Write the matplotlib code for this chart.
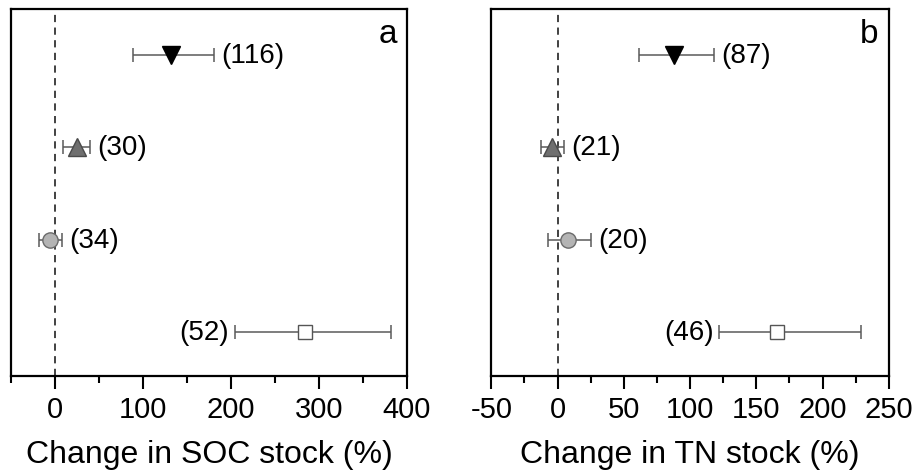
import matplotlib
matplotlib.use("Agg")
import matplotlib.pyplot as plt
from matplotlib.ticker import MultipleLocator

plt.rcParams['font.family'] = ['Liberation Sans', 'DejaVu Sans']
plt.rcParams['axes.unicode_minus'] = False

# Panel a: SOC stock
soc_mean = [132, 25, -6, 284]
soc_low = [89, 9, -18, 204]
soc_high = [181, 40, 8, 382]
soc_n = ["(116)", "(30)", "(34)", "(52)"]

# Panel b: TN stock
tn_mean = [88, -4, 8, 166]
tn_low = [61.5, -12.5, -7, 122]
tn_high = [118, 5, 25.5, 229]
tn_n = ["(87)", "(21)", "(20)", "(46)"]

rows = [1, 2, 3, 4]
markers = ['v', '^', 'o', 's']
faces = ['black', '#6f6f6f', '#b4b4b4', 'white']
edges = ['black', '#4a4a4a', '#6a6a6a', '#555555']
sizes = [13, 13, 11, 10]
label_side = ['right', 'right', 'right', 'left']

fig = plt.figure(figsize=(9.14, 4.77), dpi=100)
axa = fig.add_axes([0.012, 0.2096, 0.4333, 0.7694])
axb = fig.add_axes([0.5376, 0.2096, 0.4348, 0.7694])

def draw(ax, mean, low, high, ns, xlim, major, minor, xlabel, letter):
    ax.axvline(0, color='#333333', linestyle=(0, (4, 3)), linewidth=1.3, zorder=1)
    for i, y in enumerate(rows):
        m = mean[i]
        ax.errorbar([m], [y], xerr=[[m - low[i]], [high[i] - m]], fmt='none',
                    ecolor='#5a5a5a', elinewidth=1.1, capsize=5, capthick=1.1, zorder=2)
        ax.plot([m], [y], marker=markers[i], markersize=sizes[i],
                markerfacecolor=faces[i], markeredgecolor=edges[i],
                markeredgewidth=1.0, linestyle='none', zorder=3)
        if label_side[i] == 'right':
            ax.annotate(ns[i], (high[i], y), xytext=(5, 0), textcoords='offset points',
                        ha='left', va='center', fontsize=20)
        else:
            ax.annotate(ns[i], (low[i], y), xytext=(-4, 0), textcoords='offset points',
                        ha='right', va='center', fontsize=20)
    ax.set_xlim(*xlim)
    ax.set_ylim(4.48, 0.5)
    ax.set_yticks([])
    ax.xaxis.set_major_locator(MultipleLocator(major))
    ax.xaxis.set_minor_locator(MultipleLocator(minor))
    ax.tick_params(axis='x', which='major', direction='out', length=9, width=1.5,
                   labelsize=21, pad=5)
    ax.tick_params(axis='x', which='minor', direction='out', length=5, width=1.5)
    for s in ax.spines.values():
        s.set_linewidth(1.6)
    ax.set_xlabel(xlabel, fontsize=23, labelpad=11)
    ax.text(0.975, 0.975, letter, transform=ax.transAxes, ha='right', va='top', fontsize=24)

draw(axa, soc_mean, soc_low, soc_high, soc_n, (-50, 400), 100, 50,
     "Change in SOC stock (%)", "a")
draw(axb, tn_mean, tn_low, tn_high, tn_n, (-50, 250), 50, 25,
     "Change in TN stock (%)", "b")

fig.savefig("out.png", dpi=100)
